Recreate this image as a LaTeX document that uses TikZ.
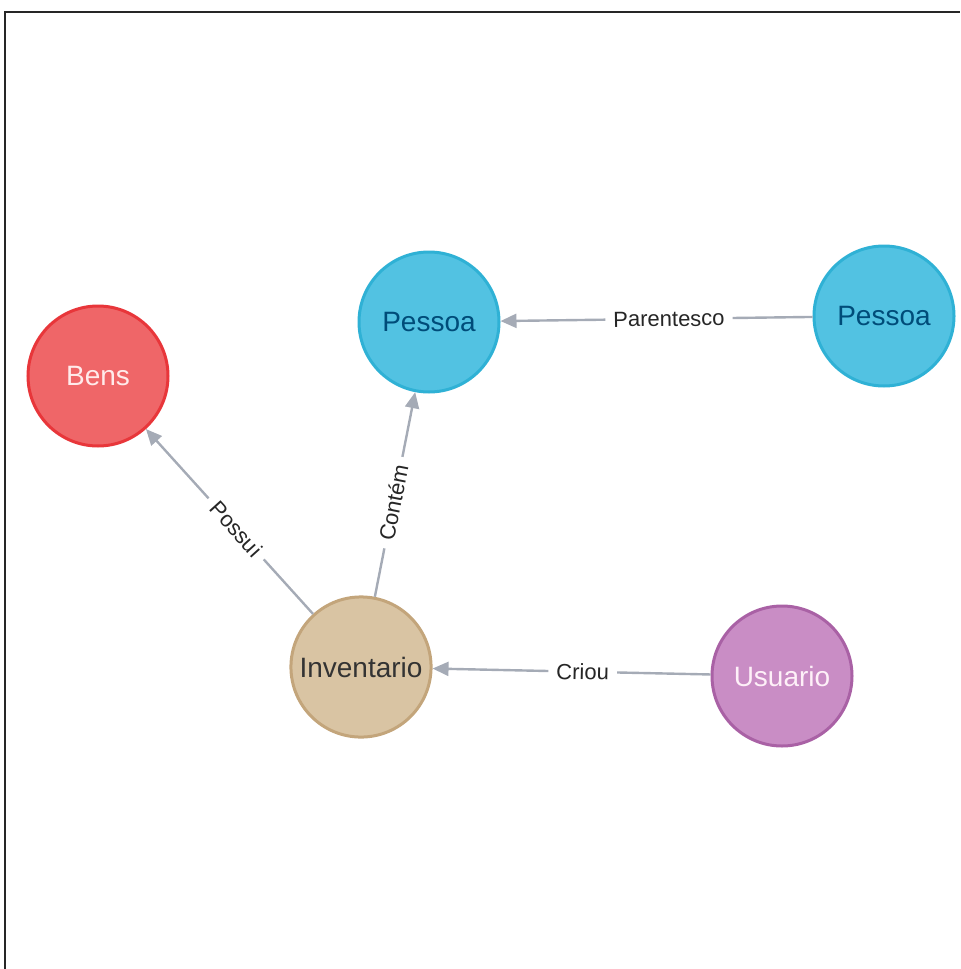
\documentclass[tikz,border=0pt]{standalone}
\usepackage{fontspec}
\setmainfont{Liberation Sans}
\usepackage{tikz}
\usetikzlibrary{arrows.meta}
\definecolor{bensfill}{HTML}{EF6668}
\definecolor{bensdraw}{HTML}{E8363A}
\definecolor{pessoafill}{HTML}{52C2E2}
\definecolor{pessoadraw}{HTML}{2FB1D5}
\definecolor{invfill}{HTML}{D9C4A3}
\definecolor{invdraw}{HTML}{C3A57B}
\definecolor{usrfill}{HTML}{C98DC5}
\definecolor{usrdraw}{HTML}{A961A5}
\definecolor{edgegray}{HTML}{A5ABB6}

\begin{document}
\begin{tikzpicture}[x=0.5pt,y=-0.5pt]
\useasboundingbox (0,0) rectangle (960,969);
\draw[line width=0.8pt,black!85] (5,969) -- (5,12) -- (960,12);

\begin{scope}[every node/.style={circle,line width=1.5pt,draw,minimum size=70pt,font=\fontsize{14}{16}\selectfont}]
    \node[fill=bensfill,draw=bensdraw,text=red!8] (B) at (98,376) {Bens};
    \node[fill=pessoafill,draw=pessoadraw,text=black!75!blue!70!cyan] (P1) at (429,322) {Pessoa};
    \node[fill=pessoafill,draw=pessoadraw,text=black!75!blue!70!cyan] (P2) at (884,316) {Pessoa};
    \node[fill=invfill,draw=invdraw,text=black!80] (I) at (361,667) {Inventario};
    \node[fill=usrfill,draw=usrdraw,text=magenta!6] (U) at (782,676) {Usuario};
\end{scope}

\begin{scope}[
              every node/.style={fill=white,sloped,inner xsep=4pt,inner ysep=1pt,text=black!85,font=\fontsize{11}{13}\selectfont},
              every edge/.style={draw=edgegray,line width=1.2pt,-{Triangle[length=8pt,width=7pt]}}]
    \path  (P2) edge node[pos=0.46] {Parentesco} (P1);
    \path  (I) edge node[pos=0.46] {Contém} (P1);
    \path  (I) edge node[pos=0.46] {Possui} (B);
    \path  (U) edge node[pos=0.46] {Criou} (I);
\end{scope}
\end{tikzpicture}
\end{document}
